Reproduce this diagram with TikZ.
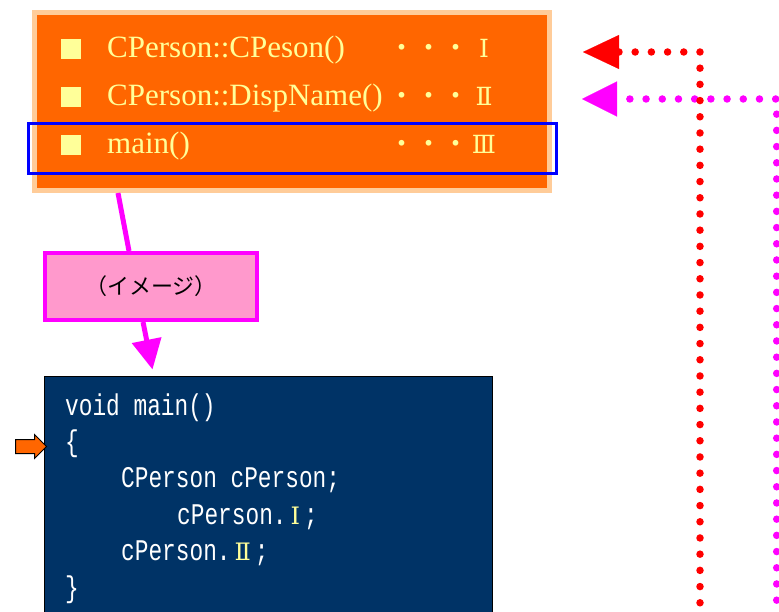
\documentclass[tikz,border=0pt]{standalone}
\usepackage{fontspec}
\setmainfont{Liberation Serif}
\newfontfamily\cjk{Noto Sans CJK JP}
\newfontfamily\romfont{DejaVu Serif}
\newfontfamily\codefont[FakeStretch=0.76]{Liberation Mono}
\usepackage{xcolor}
\usetikzlibrary{arrows.meta}
\usetikzlibrary{positioning}
\usetikzlibrary{shapes.arrows}
\definecolor{listorange}{HTML}{FF6600}
\definecolor{listpeach}{HTML}{FFCC99}
\definecolor{itemyellow}{HTML}{FFFF99}
\definecolor{imgpink}{HTML}{FF99CC}
\definecolor{linkmagenta}{HTML}{FF00FF}
\definecolor{linkred}{HTML}{FF0000}
\definecolor{selblue}{HTML}{0000FF}
\definecolor{codenavy}{HTML}{003366}
\newcommand{\codenum}[1]{{\color{itemyellow}\romfont\fontsize{24}{24}\selectfont\,#1\,}}

\begin{document}
\begin{tikzpicture}[x=1pt,y=-1pt]
	\tikzset{
		listframe/.style={draw=listpeach,fill=listorange,line width=5pt,minimum width=515pt,minimum height=178pt,inner sep=0},
		bullet/.style={fill=itemyellow,minimum size=20pt,inner sep=0},
		itemtext/.style={anchor=base west,inner sep=0,text=itemyellow,font=\fontsize{31}{31}\selectfont},
		dottext/.style={itemtext,font=\cjk\fontsize{27}{27}\selectfont},
		numtext/.style={itemtext,anchor=base,font=\romfont\fontsize{25}{25}\selectfont},
		selbox/.style={draw=selblue,line width=3pt,minimum width=528pt,minimum height=50pt,inner sep=0},
		imgbox/.style={draw=linkmagenta,fill=imgpink,line width=4pt,minimum width=212pt,minimum height=67pt,font=\cjk\fontsize{22}{22}\selectfont},
		magline/.style={draw=linkmagenta,line width=5pt},
		codebox/.style={draw=black,fill=codenavy,line width=1pt,minimum width=448pt,minimum height=274pt,inner sep=0},
		codeline/.style={anchor=base west,inner sep=0,text=white,font=\codefont\fontsize{30}{30}\selectfont},
		pointer/.style={single arrow,draw=black,fill=listorange,line width=1pt,minimum height=31pt,inner xsep=0pt,inner ysep=6.5pt,single arrow head extend=5pt},
		dotline/.style={line width=7.5pt,line cap=round,dash pattern=on 0pt off 16.2pt}
	}
	
	\useasboundingbox (0,0) rectangle (779,612);
	\clip (0,0) rectangle (779,612);
	
	\node[listframe] (list) at (292,101.5) {};
	\foreach \i/\y/\name/\num in {1/58/{CPerson::CPeson()}/Ⅰ, 2/106/{CPerson::DispName()}/Ⅱ, 3/154/{main()}/Ⅲ}{
		\node[bullet] (mark\i) at (71,\y-9) {};
		\node[itemtext] (item\i) at (107,\y) {\name};
		\node[dottext] (dots\i) at (388.5,\y) {・・・};
		\node[numtext] (num\i) at (484,\y) {\num};
	}
	\node[selbox] (sel) at (292.5,148.5) {};
	
	\node[imgbox] (img) at (151,286.5) {（イメージ）};
	\node[codebox] (code) at (268,513) {};
	\foreach \i/\dx/\txt in {1/0/{void main()}, 2/0/{\{}, 3/56/{CPerson cPerson;}, 4/112/{cPerson.\codenum{Ⅰ};}, 5/56/{cPerson.\codenum{Ⅱ};}, 6/0/{\}}}
		\node[codeline] (line\i) at (65+\dx,378.6+36.4*\i) {\txt};
	\node[pointer] (ptr) at (27.5,446.5) {};
	
	\draw[magline] ([xshift=86pt]list.south west) -- ([xshift=86pt]img.north west);
	\draw[magline,-{Triangle[length=30pt,width=29pt]}] ([xshift=100pt]img.south west) -- ([xshift=109pt,yshift=6pt]code.north west);
	
	% calls back to I and II
	\coordinate (tipI) at (583,52);
	\coordinate (tipII) at (582,99);
	\coordinate (footI) at (700,640);
	\coordinate (footII) at (776.7,640);
	\draw[dotline,linkmagenta,dash phase=3.3pt,{Triangle[length=35pt,width=35pt,line width=0.1pt]}-] (tipII) -| (footII);
	\draw[dotline,linkred,{Triangle[length=36pt,width=34pt,line width=0.1pt]}-] (tipI) -| (footI);
\end{tikzpicture}
\end{document}
